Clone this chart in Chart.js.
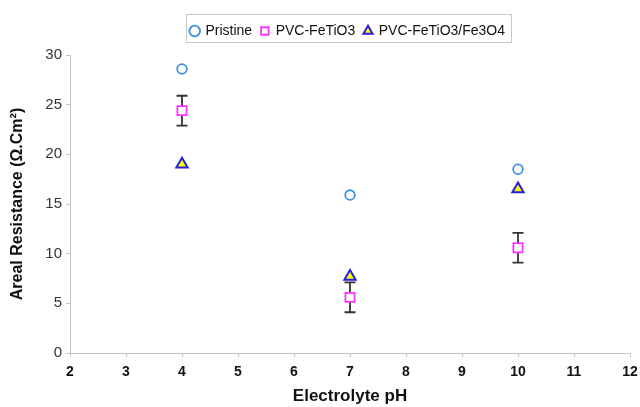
<!DOCTYPE html>
<html>
<head>
<meta charset="utf-8">
<script src="https://cdn.jsdelivr.net/npm/chart.js@4"></script>
<style>
  html, body { margin: 0; padding: 0; background: #fff; overflow: hidden; }
  #wrap { width: 640px; height: 407px; overflow: hidden; }
</style>
</head>
<body>
<div id="wrap"><canvas id="myChart" width="660" height="407"></canvas></div>
<script>
// data
var phValues = [4, 7, 10];
var pristine = [28.6, 15.9, 18.5];
var fetio3 = [24.4, 5.6, 10.6];
var fetio3Err = [1.5, 1.5, 1.5];
var fe3o4 = [19.0, 7.7, 16.5];

function toPoints(ys) {
    return phValues.map(function (x, i) { return {x: x, y: ys[i]}; });
}

// legend sizing / placement + box, and error bars
const extras = {
    id: 'extras',
    beforeInit(chart) {
        const lg = chart.legend;
        const origFit = lg.fit;
        lg.fit = function () {
            origFit.bind(lg)();
            this.height = 40;
        };
    },
    afterLayout(chart) {
        // centre the legend items over the plot like the original
        const lg = chart.legend;
        const shift = 348 - (lg.left + lg.right) / 2;
        lg.left += shift;
        lg.right += shift;
    },
    beforeDatasetsDraw(chart) {
        const ctx = chart.ctx;
        const xs = chart.scales.x, ys = chart.scales.y;
        ctx.save();
        ctx.strokeStyle = '#333';
        ctx.lineWidth = 1.8;
        for (var i = 0; i < phValues.length; i++) {
            var px = xs.getPixelForValue(phValues[i]);
            var top = ys.getPixelForValue(fetio3[i] + fetio3Err[i]);
            var bot = ys.getPixelForValue(fetio3[i] - fetio3Err[i]);
            ctx.beginPath();
            ctx.moveTo(px, top); ctx.lineTo(px, bot);
            ctx.moveTo(px - 5.5, top); ctx.lineTo(px + 5.5, top);
            ctx.moveTo(px - 5.5, bot); ctx.lineTo(px + 5.5, bot);
            ctx.stroke();
        }
        ctx.restore();
    },
    afterDraw(chart) {
        const boxes = chart.legend.legendHitBoxes;
        if (!boxes || !boxes.length) return;
        var l = Math.min.apply(null, boxes.map(function (b) { return b.left; }));
        var r = Math.max.apply(null, boxes.map(function (b) { return b.left + b.width; }));
        const ctx = chart.ctx;
        ctx.save();
        ctx.strokeStyle = '#c8c8c8';
        ctx.lineWidth = 1;
        ctx.strokeRect(Math.round(l - 5) + 0.5, 14.5, Math.round(r - l + 11), 28);
        ctx.restore();
    }
};

const data = {
    datasets: [{
        label: 'Pristine',
        data: toPoints(pristine),
        pointStyle: 'circle',
        pointRadius: 4.8,
        pointBorderWidth: 1.8,
        borderWidth: 1.8,
        borderColor: '#3f8ee0',
        backgroundColor: '#ffffff'
    }, {
        label: 'PVC-FeTiO3',
        data: toPoints(fetio3),
        pointStyle: 'rect',
        pointRadius: 6.5,
        pointBorderWidth: 1.8,
        borderWidth: 1.8,
        borderColor: '#ff33ff',
        backgroundColor: '#ffffff'
    }, {
        label: 'PVC-FeTiO3/Fe3O4',
        data: toPoints(fe3o4),
        pointStyle: 'triangle',
        pointRadius: 6.5,
        pointBorderWidth: 2,
        borderWidth: 1.8,
        borderColor: '#2222dd',
        backgroundColor: '#ffff00'
    }]
};

const config = {
    type: 'scatter',
    data: data,
    options: {
        responsive: false,
        animation: false,
        layout: {padding: {left: 0, right: 30, top: 15, bottom: 0}},
        plugins: {
            legend: {
                display: true,
                position: 'top',
                labels: {
                    usePointStyle: true,
                    boxWidth: 7.5,
                    boxHeight: 7.5,
                    padding: 9,
                    color: '#111',
                    font: {family: 'Liberation Sans', size: 14}
                }
            },
            tooltip: {enabled: false}
        },
        scales: {
            x: {
                type: 'linear',
                min: 2, max: 12,
                afterFit: function (scale) { scale.height = 54; },
                ticks: {stepSize: 1, color: '#111', padding: 7,
                        font: {family: 'Liberation Sans', size: 14, weight: 'bold'}},
                grid: {drawOnChartArea: false, drawTicks: true, tickLength: 4, color: '#c4c4c4'},
                border: {color: '#c4c4c4'},
                title: {display: true, text: 'Electrolyte pH', color: '#111', padding: 0,
                        font: {family: 'Liberation Sans', size: 17, weight: 'bold'}}
            },
            y: {
                min: 0, max: 30,
                afterFit: function (scale) { scale.width = 70; },
                ticks: {stepSize: 5, color: '#333', padding: 4,
                        font: {family: 'Liberation Sans', size: 15}},
                grid: {drawOnChartArea: false, drawTicks: true, tickLength: 4, color: '#c4c4c4'},
                border: {color: '#c4c4c4'},
                title: {display: true, text: 'Areal Resistance (\u03A9.Cm\u00B2)', color: '#111',
                        padding: {top: 8, bottom: 0},
                        font: {family: 'Liberation Sans', size: 16, weight: 'bold'}}
            }
        }
    },
    plugins: [extras]
};

let myChart = new Chart(document.getElementById('myChart'), config);
</script>
</body>
</html>
